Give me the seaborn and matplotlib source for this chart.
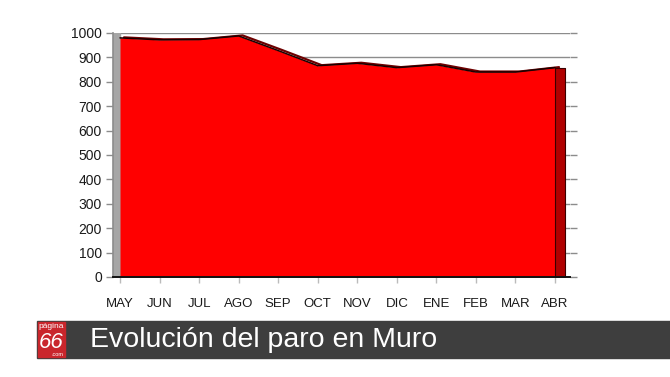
import matplotlib
matplotlib.use("Agg")
import matplotlib.pyplot as plt
import matplotlib.transforms as mtransforms
from matplotlib.patches import Rectangle
import numpy as np
import pandas as pd
import seaborn as sns

# ---- data ----
months = ["MAY", "JUN", "JUL", "AGO", "SEP", "OCT", "NOV", "DIC", "ENE", "FEB", "MAR", "ABR"]
parados = [980, 972, 973, 988, 928, 866, 876, 858, 870, 840, 840, 858]
y_ticks = [0, 100, 200, 300, 400, 500, 600, 700, 800, 900, 1000]
title = "Evolución del paro en Muro"

df = pd.DataFrame({"mes": months, "parados": parados})
df["pos"] = np.arange(len(df))

sns.set_style("white")
plt.rcParams["font.family"] = ["Liberation Sans", "DejaVu Sans"]

fig = plt.figure(figsize=(6.7, 3.77), dpi=100)
ax = fig.add_axes([113 / 670, 1 - 277 / 377, 457 / 670, 244 / 377])

n = len(df)
x0 = -7 / 39.55
x1 = (n - 1) + 15 / 39.55

# back-wall gridlines (only visible above the area)
for v in y_ticks:
    ax.axhline(v, color="#8c8c8c", lw=1.0, zorder=0)

# left grey wall
ax.axvspan(x0, 0, color="#a6a6a6", zorder=1)

# shadow / depth edge of top surface
shadow = mtransforms.offset_copy(ax.transData, fig=fig, x=4, y=0.5, units="dots")
ax.plot(df["pos"], df["parados"], color="#6e0000", lw=1.6, transform=shadow, zorder=2)

# main area
ax.fill_between(df["pos"], 0, df["parados"], color="#ff0000", lw=0, zorder=3)
sns.lineplot(data=df, x="pos", y="parados", color="#1a0000", lw=1.1, ax=ax, zorder=4)

# right side face (depth of last point)
last = df["pos"].iloc[-1]
ax.fill_between([last, last + 0.25], [0, 0], [df["parados"].iloc[-1]] * 2,
                color="#b00000", ec="#3a0000", lw=0.8, zorder=3.5)

ax.set_xlim(x0, x1)
ax.set_ylim(0, 1000)
ax.set_yticks(y_ticks)
ax.set_yticklabels([str(v) for v in y_ticks])
ax.set_xticks(df["pos"])
ax.set_xticklabels(df["mes"])
ax.set_xlabel("")
ax.set_ylabel("")

for s in ["top", "right"]:
    ax.spines[s].set_visible(False)
ax.spines["left"].set_color("#8c8c8c")
ax.spines["left"].set_linewidth(1.2)
ax.spines["bottom"].set_color("#111111")
ax.spines["bottom"].set_linewidth(1.4)
ax.spines["bottom"].set_zorder(5)

ax.tick_params(axis="y", which="both", left=True, right=True, length=5, width=1,
               color="#8c8c8c", labelsize=10, labelcolor="#1a1a1a", pad=3, direction="out")
ax.tick_params(axis="x", bottom=True, length=4, width=1, color="#bbbbbb",
               labelsize=9.5, labelcolor="#1a1a1a", pad=11, direction="out")

# ---- bottom banner ----
band_bottom = 1 - 358 / 377
band_h = 37 / 377
fig.patches.append(Rectangle((37 / 670, band_bottom), 1 - 37 / 670, band_h,
                             transform=fig.transFigure, color="#3e3e3e", zorder=0))
fig.patches.append(Rectangle((38 / 670, 1 - 357 / 377), 27 / 670, 35 / 377,
                             transform=fig.transFigure, color="#c9262c", zorder=1))
fig.text(51.5 / 670, 1 - 326.5 / 377, "página", color="white", fontsize=6,
         ha="center", va="center")
fig.text(51.5 / 670, 1 - 342 / 377, "66", color="white", fontsize=16, style="italic",
         ha="center", va="center")
fig.text(57 / 670, 1 - 354.5 / 377, ".com", color="white", fontsize=4,
         ha="center", va="center")
fig.text(90 / 670, 1 - 340 / 377, title, color="white", fontsize=20.5,
         ha="left", va="center")

fig.savefig("out.png", dpi=100)
